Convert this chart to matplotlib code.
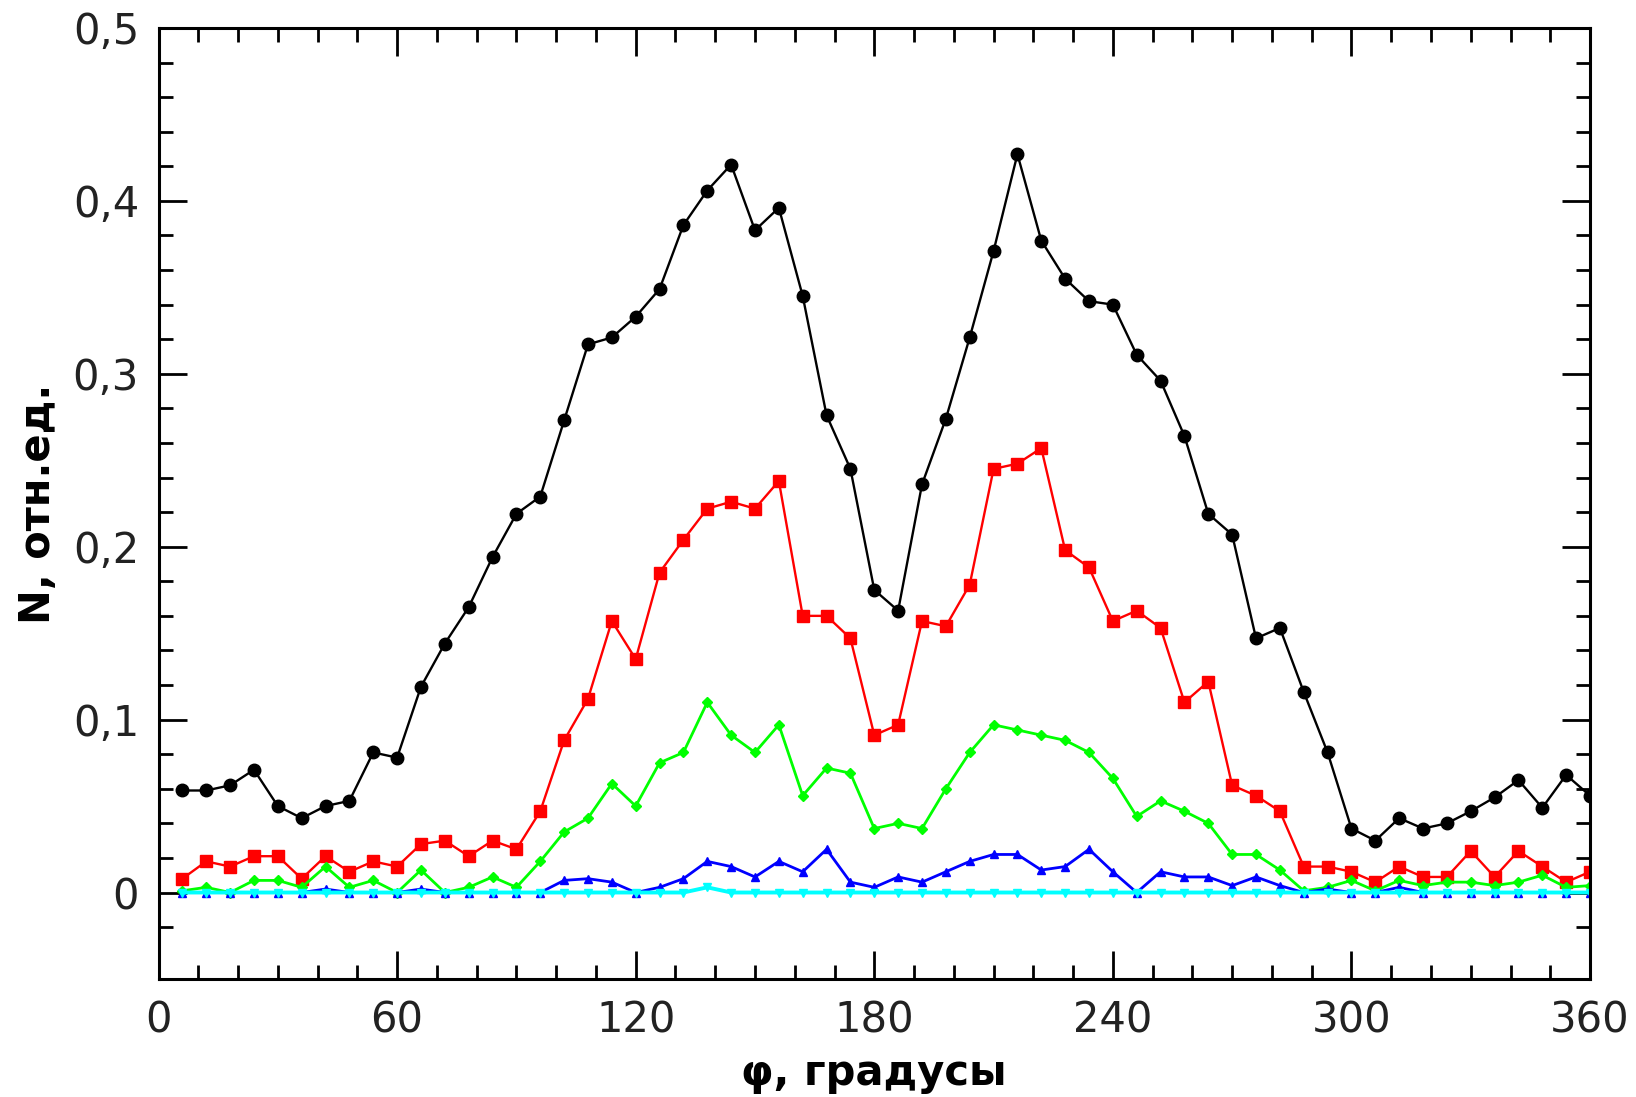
import matplotlib
matplotlib.use("Agg")
import matplotlib.pyplot as plt
from matplotlib.ticker import FixedLocator, FuncFormatter

# углы, градусы
phi = [6, 12, 18, 24, 30, 36, 42, 48, 54, 60,
       66, 72, 78, 84, 90, 96, 102, 108, 114, 120,
       126, 132, 138, 144, 150, 156, 162, 168, 174, 180,
       186, 192, 198, 204, 210, 216, 222, 228, 234, 240,
       246, 252, 258, 264, 270, 276, 282, 288, 294, 300,
       306, 312, 318, 324, 330, 336, 342, 348, 354, 360]

n_black = [0.059, 0.059, 0.062, 0.071, 0.050, 0.043, 0.050, 0.053, 0.081, 0.078,
           0.119, 0.144, 0.165, 0.194, 0.219, 0.229, 0.273, 0.317, 0.321, 0.333,
           0.349, 0.386, 0.406, 0.421, 0.383, 0.396, 0.345, 0.276, 0.245, 0.175,
           0.163, 0.236, 0.274, 0.321, 0.371, 0.427, 0.377, 0.355, 0.342, 0.340,
           0.311, 0.296, 0.264, 0.219, 0.207, 0.147, 0.153, 0.116, 0.081, 0.037,
           0.030, 0.043, 0.037, 0.040, 0.047, 0.055, 0.065, 0.049, 0.068, 0.056]

n_red = [0.008, 0.018, 0.015, 0.021, 0.021, 0.008, 0.021, 0.012, 0.018, 0.015,
         0.028, 0.030, 0.021, 0.030, 0.025, 0.047, 0.088, 0.112, 0.157, 0.135,
         0.185, 0.204, 0.222, 0.226, 0.222, 0.238, 0.160, 0.160, 0.147, 0.091,
         0.097, 0.157, 0.154, 0.178, 0.245, 0.248, 0.257, 0.198, 0.188, 0.157,
         0.163, 0.153, 0.110, 0.122, 0.062, 0.056, 0.047, 0.015, 0.015, 0.012,
         0.006, 0.015, 0.009, 0.009, 0.024, 0.009, 0.024, 0.015, 0.006, 0.012]

n_green = [0.001, 0.003, 0.000, 0.007, 0.007, 0.003, 0.015, 0.003, 0.007, 0.000,
           0.013, 0.000, 0.003, 0.009, 0.003, 0.018, 0.035, 0.043, 0.063, 0.050,
           0.075, 0.081, 0.110, 0.091, 0.081, 0.097, 0.056, 0.072, 0.069, 0.037,
           0.040, 0.037, 0.060, 0.081, 0.097, 0.094, 0.091, 0.088, 0.081, 0.066,
           0.044, 0.053, 0.047, 0.040, 0.022, 0.022, 0.013, 0.001, 0.003, 0.007,
           0.001, 0.007, 0.004, 0.006, 0.006, 0.004, 0.006, 0.010, 0.003, 0.004]

n_blue = [0.000, 0.000, 0.000, 0.000, 0.000, 0.000, 0.002, 0.000, 0.000, 0.000,
          0.002, 0.000, 0.000, 0.000, 0.000, 0.000, 0.007, 0.008, 0.006, 0.000,
          0.003, 0.008, 0.018, 0.015, 0.009, 0.018, 0.012, 0.025, 0.006, 0.003,
          0.009, 0.006, 0.012, 0.018, 0.022, 0.022, 0.013, 0.015, 0.025, 0.012,
          0.000, 0.012, 0.009, 0.009, 0.004, 0.009, 0.004, 0.000, 0.002, 0.000,
          0.000, 0.003, 0.000, 0.000, 0.000, 0.000, 0.000, 0.000, 0.000, 0.000]

n_cyan = [0.000] * 22 + [0.003] + [0.000] * 37

x_major = [0, 60, 120, 180, 240, 300, 360]
y_major = [0.0, 0.1, 0.2, 0.3, 0.4, 0.5]

fig = plt.figure(figsize=(16.36, 10.97), dpi=100)
ax = fig.add_axes([0.0969, 0.1076, 0.875, 0.8669])

ax.plot(phi, n_black, color='black', lw=1.7, marker='o', ms=9)
ax.plot(phi, n_red, color='#ff0000', lw=1.7, marker='s', ms=9)
ax.plot(phi, n_green, color='#00ff00', lw=2.0, marker='D', ms=5)
ax.plot(phi, n_blue, color='#0000ff', lw=2.0, marker='^', ms=6)
ax.plot(phi, n_cyan, color='#00ffff', lw=2.8, marker='v', ms=6)

ax.set_xlim(0, 360)
ax.set_ylim(-0.05, 0.5)

ax.xaxis.set_major_locator(FixedLocator(x_major))
ax.xaxis.set_minor_locator(FixedLocator([v for v in range(10, 360, 10) if v % 60]))
ax.yaxis.set_major_locator(FixedLocator(y_major))
ax.yaxis.set_minor_locator(FixedLocator([-0.02] + [i * 0.02 for i in range(1, 25) if i % 5]))
ax.yaxis.set_major_formatter(FuncFormatter(lambda v, p: '0' if abs(v) < 1e-9 else f'{v:.1f}'.replace('.', ',')))

ax.tick_params(which='both', direction='in', top=True, right=True, colors='black',
               labelcolor='#222222', labelsize=30)
ax.tick_params(which='major', length=20, width=2)
ax.tick_params(which='minor', length=10, width=2)
ax.tick_params(axis='x', which='major', pad=15)
ax.tick_params(axis='y', which='major', pad=14)

for s in ax.spines.values():
    s.set_linewidth(2.2)

ax.set_xlabel('φ, градусы', fontsize=30, fontweight='bold', labelpad=7)
ax.set_ylabel('N, отн.ед.', fontsize=30, fontweight='bold', labelpad=10)

fig.savefig('out.png', dpi=100)
